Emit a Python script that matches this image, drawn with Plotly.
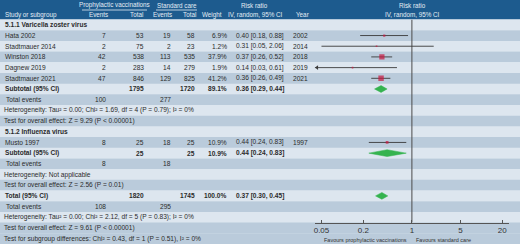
import math
import plotly.graph_objects as go

W, H = 520, 244
HEADER_H = 19.5
N_ROWS = 21
ROW_H = (H - HEADER_H) / N_ROWS

FONT = "Liberation Sans, Arial, sans-serif"
TXT = "#2b2b2b"
HDR_TXT = "#e4ecf4"
HDR_BG = "#1d5b8e"
LIGHT = "#dde6ef"
DARK = "#bacbdb"

# ---------------- data ----------------
study = ["Hata 2002", "Stadtmauer 2014", "Winston 2018", "Dagnew 2019", "Stadtmauer 2021", "Musto 1997"]
study_row = [1, 2, 3, 4, 5, 11]
vac_events = [7, 2, 42, 2, 47, 8]
vac_total = [53, 75, 538, 283, 846, 25]
ctl_events = [19, 2, 113, 14, 129, 18]
ctl_total = [58, 23, 535, 279, 825, 25]
weight = [6.9, 1.2, 37.9, 1.9, 41.2, 10.9]
rr = [0.40, 0.31, 0.37, 0.14, 0.36, 0.44]
rr_lo = [0.18, 0.05, 0.26, 0.03, 0.26, 0.24]
rr_hi = [0.88, 2.06, 0.52, 0.61, 0.49, 0.83]
year = [2002, 2014, 2018, 2019, 2021, 1997]

pooled_label = ["Subtotal (95% CI)", "Subtotal (95% CI)", "Total (95% CI)"]
pooled_row = [6, 12, 16]
pooled_vac_total = [1795, 25, 1820]
pooled_ctl_total = [1720, 25, 1745]
pooled_weight = [89.1, 10.9, 100.0]
pooled_rr = [0.36, 0.44, 0.37]
pooled_lo = [0.29, 0.24, 0.30]
pooled_hi = [0.44, 0.83, 0.45]

events_row = [7, 13, 17]
events_vac = [100, 8, 108]
events_ctl = [277, 18, 295]

group_titles = {0: "5.1.1 Varicella zoster virus", 10: "5.1.2 Influenza virus"}
note_rows = {
    8: "Heterogeneity: Tau\u00b2 = 0.00; Chi\u00b2 = 1.69, df = 4 (P = 0.79); I\u00b2 = 0%",
    9: "Test for overall effect: Z = 9.29 (P < 0.00001)",
    14: "Heterogeneity: Not applicable",
    15: "Test for overall effect: Z = 2.56 (P = 0.01)",
    18: "Heterogeneity: Tau\u00b2 = 0.00; Chi\u00b2 = 2.12, df = 5 (P = 0.83); I\u00b2 = 0%",
    19: "Test for overall effect: Z = 9.61 (P < 0.00001)",
    20: "Test for subgroup differences: Chi\u00b2 = 0.43, df = 1 (P = 0.51), I\u00b2 = 0%",
}

x_min, x_max = 0.04, 25
tick_vals = [0.05, 0.2, 1, 5, 20]
tick_text = ["0.05", "0.2", "1", "5", "20"]

# ---------------- helpers ----------------
def row_center(i):
    return HEADER_H + (i + 0.5) * ROW_H

ann = []
def txt(x, y, s, anchor="left", bold=False, size=6.6, color=TXT):
    if bold:
        s = "<b>" + s + "</b>"
    ann.append(dict(x=x / W, y=1 - y / H, xref="paper", yref="paper", text=s,
                    showarrow=False, xanchor=anchor, yanchor="middle",
                    borderpad=0, font=dict(size=size, color=color, family=FONT)))

shapes = []
def rect(x0, y0, x1, y1, color):
    shapes.append(dict(type="rect", xref="paper", yref="paper",
                       x0=x0 / W, x1=x1 / W, y0=1 - y1 / H, y1=1 - y0 / H,
                       fillcolor=color, line=dict(width=0), layer="below"))

# backgrounds
rect(0, 0, W, HEADER_H, HDR_BG)
for i in range(N_ROWS):
    top = HEADER_H + i * ROW_H
    col = LIGHT if (i % 2 == 0 and i < 19) else DARK
    rect(0, top, W, top + ROW_H + 0.3, col)

# header underlines
for x0, x1 in [(82, 147), (156, 197)]:
    shapes.append(dict(type="line", xref="paper", yref="paper", x0=x0 / W, x1=x1 / W,
                       y0=1 - 10 / H, y1=1 - 10 / H, line=dict(color=HDR_TXT, width=0.8)))

# header text
HS = 6.3
txt(114.5, 5.2, "Prophylactic vaccinations", "center", size=HS, color=HDR_TXT)
txt(176.5, 5.2, "Standard care", "center", size=HS, color=HDR_TXT)
txt(254, 5.2, "Risk ratio", "center", size=HS, color=HDR_TXT)
txt(412, 5.2, "Risk ratio", "center", size=HS, color=HDR_TXT)
txt(4, 14.6, "Study or subgroup", "left", size=HS, color=HDR_TXT)
txt(109, 14.6, "Events", "right", size=HS, color=HDR_TXT)
txt(144, 14.6, "Total", "right", size=HS, color=HDR_TXT)
txt(173, 14.6, "Events", "right", size=HS, color=HDR_TXT)
txt(197, 14.6, "Total", "right", size=HS, color=HDR_TXT)
txt(223, 14.6, "Weight", "right", size=HS, color=HDR_TXT)
txt(255, 14.6, "IV, random, 95% CI", "center", size=HS, color=HDR_TXT)
txt(295, 14.6, "Year", "left", size=HS, color=HDR_TXT)
txt(412, 14.6, "IV, random, 95% CI", "center", size=HS, color=HDR_TXT)

C_VE, C_VT, C_CE, C_CT, C_W, C_CI, C_Y = 107, 145, 172, 196, 228, 235, 292

for r, t in group_titles.items():
    txt(4, row_center(r), t, "left", bold=True)
for r, t in note_rows.items():
    txt(3, row_center(r), t, "left")

for i in range(len(study)):
    y = row_center(study_row[i])
    txt(4, y, study[i])
    txt(C_VE, y, str(vac_events[i]), "right")
    txt(C_VT, y, str(vac_total[i]), "right")
    txt(C_CE, y, str(ctl_events[i]), "right")
    txt(C_CT, y, str(ctl_total[i]), "right")
    txt(C_W, y, f"{weight[i]:.1f}%", "right")
    txt(C_CI, y, f"{rr[i]:.2f} [{rr_lo[i]:.2f}, {rr_hi[i]:.2f}]")
    txt(C_Y, y, str(year[i]))

for i in range(len(pooled_row)):
    y = row_center(pooled_row[i])
    txt(4, y, pooled_label[i], bold=True)
    txt(C_VT, y, str(pooled_vac_total[i]), "right", bold=True)
    txt(C_CT, y, str(pooled_ctl_total[i]), "right", bold=True)
    txt(C_W, y, f"{pooled_weight[i]:.1f}%", "right", bold=True)
    txt(C_CI, y, f"{pooled_rr[i]:.2f} [{pooled_lo[i]:.2f}, {pooled_hi[i]:.2f}]", bold=True)

for i in range(len(events_row)):
    y = row_center(events_row[i])
    txt(5, y, "Total events")
    txt(C_VE, y, str(events_vac[i]), "right")
    txt(C_CE, y, str(events_ctl[i]), "right")

# favours labels
txt(408, 240.3, "Favours prophylactic vaccinations", "right", size=5.5, color="#333")
txt(415, 240.3, "Favours standard care", "left", size=5.5, color="#333")

# ---------------- plot traces ----------------
traces = []
traces.append(go.Scatter(x=[1, 1], y=[0, 19], mode="lines",
                         line=dict(color="#4a4a4a", width=1), hoverinfo="skip"))
cx, cy = [], []
arrows_x, arrows_y = [], []
for i in range(len(study)):
    r = study_row[i] + 0.5
    a = max(rr_lo[i], x_min)
    b = min(rr_hi[i], x_max)
    cx += [a, b, None]
    cy += [r, r, None]
    if rr_lo[i] < x_min:
        arrows_x.append(x_min * 1.08)
        arrows_y.append(r)
traces.append(go.Scatter(x=cx, y=cy, mode="lines", line=dict(color="#3a3a3a", width=0.9),
                         hoverinfo="skip"))
if arrows_x:
    traces.append(go.Scatter(x=arrows_x, y=arrows_y, mode="markers",
                             marker=dict(symbol="triangle-left", size=4, color="#3a3a3a"),
                             hoverinfo="skip"))
traces.append(go.Scatter(
    x=rr, y=[r + 0.5 for r in study_row], mode="markers",
    marker=dict(symbol="square", color="#c8173f",
                size=[max(1.6, 0.85 * math.sqrt(w)) for w in weight], line=dict(width=0)),
    hoverinfo="skip"))
for i in range(len(pooled_row)):
    r = pooled_row[i] + 0.5
    hh = 0.32
    traces.append(go.Scatter(
        x=[pooled_lo[i], pooled_rr[i], pooled_hi[i], pooled_rr[i], pooled_lo[i]],
        y=[r, r - hh, r, r + hh, r], mode="lines", fill="toself",
        fillcolor="#35b34f", line=dict(color="#35b34f", width=0.5), hoverinfo="skip"))

fig = go.Figure(traces)

x0_px = 411.9 - math.log10(1 / x_min) * 69.5
x1_px = 411.9 + math.log10(x_max) * 69.5
axis_y_px = HEADER_H + 19 * ROW_H

fig.update_layout(
    width=W, height=H, margin=dict(l=0, r=0, t=0, b=0),
    paper_bgcolor="white", plot_bgcolor="rgba(0,0,0,0)",
    showlegend=False, shapes=shapes, annotations=ann,
    xaxis=dict(type="log", range=[math.log10(x_min), math.log10(x_max)],
               domain=[x0_px / W, x1_px / W], tickvals=tick_vals, ticktext=tick_text,
               ticks="inside", ticklen=3, tickcolor="#555", tickwidth=0.8,
               showline=True, linecolor="#555", linewidth=0.8,
               showgrid=False, zeroline=False,
               tickfont=dict(size=8, color="#333", family=FONT), fixedrange=True),
    yaxis=dict(range=[19, 0], domain=[1 - axis_y_px / H, 1 - HEADER_H / H],
               visible=False, showgrid=False, zeroline=False, fixedrange=True),
)

fig.write_html("out.html", config={"displayModeBar": False},
               post_script="document.body.style.margin='0';document.body.style.overflow='hidden';")
